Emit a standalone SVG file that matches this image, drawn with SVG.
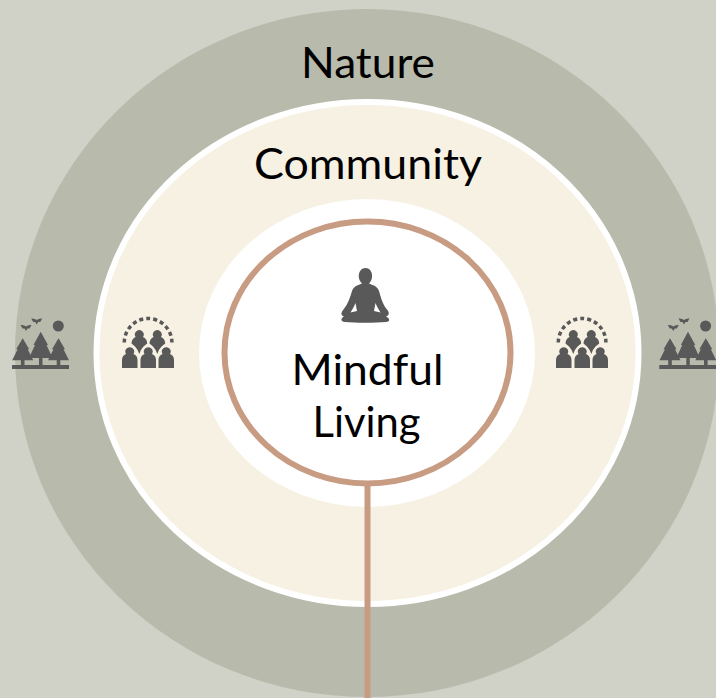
<svg xmlns="http://www.w3.org/2000/svg" width="716" height="698" viewBox="0 0 716 698">
<style>
.t{font-family:"Lato","Liberation Sans",sans-serif;fill:#000;text-anchor:middle;font-size:42px}
.i{fill:#595959}
</style>
<defs>
<path id="tree" d="M0 0 L6.500 11 L5 11 L10.500 22 L1.800 22 L1.800 27 L-1.800 27 L-1.800 22 L-10.500 22 L-5 11 L-6.500 11 Z"/>
<path id="bird" d="M-5.500 -3 Q-2 -3.500 0 -1.500 Q2 -3.500 5.500 -3 L3.500 0.500 L1.500 0.500 L0 3 L-1.500 0.500 L-3.500 0.500 Z"/>
<path id="front" d="M0 368 V360 Q0 355.500 4 354 A4.400 4.400 0 1 1 11.500 354 Q15.500 355.500 15.500 360 V368 Z"/>
<path id="back" d="M135.600 337 A4.400 4.400 0 1 1 143 337 Q147 338.500 147.200 343.500 L143.500 346.500 Q141 349 139.300 354 Q137.500 349 135 346.500 L131.500 343.500 Q131.700 338.500 135.600 337 Z"/>
<g id="forest" class="i">
<rect x="12" y="365" width="57" height="4"/>
<use href="#tree" x="22.700" y="338.300"/>
<use href="#tree" x="58.500" y="338.300"/>
<path d="M40.700 331.700 L48 345 L46.500 345 L52.500 358 L42.500 358 L42.500 365 L39 365 L39 358 L29 358 L35 345 L33.500 345 Z"/>
<circle cx="58.300" cy="326" r="5.500"/>
<use href="#bird" x="26" y="328"/>
<use href="#bird" x="36.700" y="321.500"/>
</g>
<g id="people" class="i">
<use href="#front" x="122"/>
<use href="#front" x="140.500"/>
<use href="#front" x="158.500"/>
<use href="#back"/>
<use href="#back" x="18"/>
<path d="M124.300 342.500 A23.800 24 0 0 1 171.900 342.500" fill="none" stroke="#595959" stroke-width="3.500" stroke-dasharray="4 3.080"/>
</g>
</defs>
<rect id="background" width="716" height="698" fill="#d0d1c7"/>
<ellipse id="nature-ring" cx="367" cy="353" rx="352" ry="344" fill="#b8baac"/>
<ellipse id="community-ring" cx="367.500" cy="353" rx="271" ry="251" fill="#f6f1e2" stroke="#fff" stroke-width="6"/>
<ellipse id="inner-white" cx="367" cy="353" rx="168" ry="154" fill="#fff"/>
<g id="connectors"><line x1="367.500" y1="484" x2="367.500" y2="698" stroke="#c89b83" stroke-width="6"/></g>
<g id="mindful-living">
<ellipse cx="367.500" cy="352.500" rx="143" ry="131" fill="#fff" stroke="#c89b83" stroke-width="6"/>
<path class="i" fill-rule="evenodd" d="M365.500 268 C370 268 372.500 272 372 277 C371.800 280 370.500 282 369 283.500 C374 285.500 377.500 286.500 379 291 C381 298 382.500 304 387 309.500 C390 313 389 315.500 386 316.500 C390 318 390.500 322 386 322 C375 323 355 323 345 322 C340.500 322 340.500 318 344 316.500 C341 315.500 340.500 313 343.500 309.500 C348 304 350 298 352 291 C353.500 286.500 357 285.500 362 283.500 C360.500 282 359 280 358.800 277 C358.500 272 361 268 365.500 268 Z M355.500 303 C354 307 352 310 350.500 312.500 L357 311 Z M375.500 303 C377 307 379 310 380.500 312.500 L374 311 Z"/>
<text class="t" x="367.500" y="385" textLength="152" lengthAdjust="spacingAndGlyphs">Mindful</text>
<text class="t" x="366.500" y="437" textLength="108" lengthAdjust="spacingAndGlyphs">Living</text>
</g>
<g id="nature"><text class="t" x="368" y="78" textLength="134" lengthAdjust="spacingAndGlyphs">Nature</text></g>
<g id="community"><text class="t" x="368" y="178.500" textLength="228" lengthAdjust="spacingAndGlyphs">Community</text></g>
<g id="forest-left"><use href="#forest"/></g>
<g id="forest-right"><use href="#forest" x="647.300"/></g>
<g id="people-left"><use href="#people"/></g>
<g id="people-right"><use href="#people" x="434"/></g>
</svg>
